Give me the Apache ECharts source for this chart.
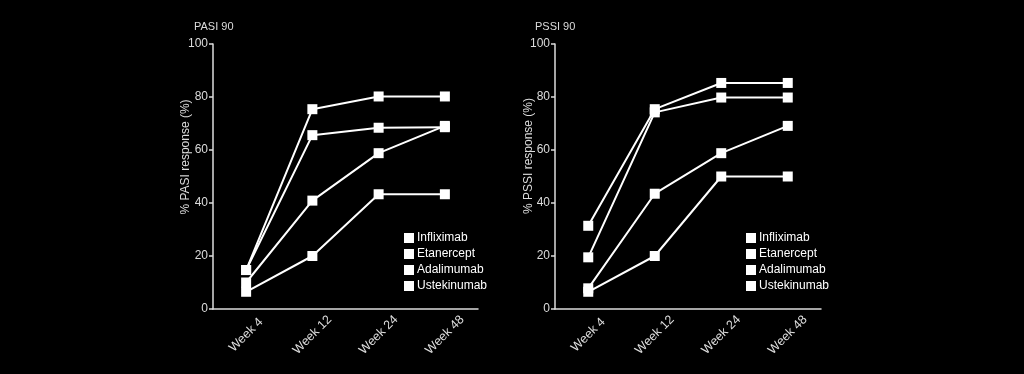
<!DOCTYPE html>
<html><head><meta charset="utf-8">
<script src="https://cdn.jsdelivr.net/npm/echarts@6/dist/echarts.min.js"></script>
<style>html,body{margin:0;padding:0;background:#000;}#c{width:1024px;height:374px;}</style>
</head><body><div id="c"></div>
<script>
const categories = ['Week 4', 'Week 12', 'Week 24', 'Week 48'];
const seriesNames = ['Infliximab', 'Etanercept', 'Adalimumab', 'Ustekinumab'];
const yTicks = [0, 20, 40, 60, 80, 100];
const pasiInfliximab = [14.7, 75.4, 80.2, 80.2];
const pasiEtanercept = [14.7, 65.6, 68.4, 68.6];
const pasiAdalimumab = [10, 40.9, 58.8, 69.1];
const pasiUstekinumab = [6.5, 20, 43.3, 43.3];
const pssiInfliximab = [31.4, 75.4, 85.3, 85.3];
const pssiEtanercept = [19.5, 74.2, 79.8, 79.8];
const pssiAdalimumab = [7.8, 43.5, 58.8, 69.1];
const pssiUstekinumab = [6.5, 20, 50, 50];

const font = 'Liberation Sans, Arial, sans-serif';
const axisCol = '#dcdcdc';
function xAxis(i){return {type:'category', gridIndex:i, data:categories, boundaryGap:true,
  axisLine:{lineStyle:{color:axisCol,width:1.5}}, axisTick:{inside:true,length:5,lineStyle:{color:axisCol,width:1.5}},
  axisLabel:{color:axisCol,fontSize:12.5,fontFamily:font,rotate:45,margin:26,align:'center',verticalAlign:'middle'}};}
function yAxis(i){return {type:'value', gridIndex:i, min:yTicks[0], max:yTicks[yTicks.length-1], interval:20,
  axisLine:{show:true,lineStyle:{color:axisCol,width:1.5}}, axisTick:{show:true,length:4,lineStyle:{color:axisCol,width:1.5}},
  splitLine:{show:false}, axisLabel:{color:axisCol,fontSize:12,fontFamily:font,margin:5}};}
function ser(name, data, i){return {name:name, type:'line', xAxisIndex:i, yAxisIndex:i, data:data,
  symbol:'rect', symbolSize:10, lineStyle:{color:'#fff',width:2}, itemStyle:{color:'#fff'}, animation:false};}
const legendBase = {orient:'vertical', icon:'rect', itemWidth:10, itemHeight:10, itemGap:4,
  textStyle:{color:'#fff',fontSize:12,fontFamily:font,padding:[0,0,0,-2]}, data:seriesNames, selectedMode:false};
const chart = echarts.init(document.getElementById('c'));
chart.setOption({
  backgroundColor:'#000',
  animation:false,
  grid:[{left:213, top:44, width:265, height:265},{left:555, top:44, width:266, height:265}],
  xAxis:[xAxis(0), xAxis(1)],
  yAxis:[yAxis(0), yAxis(1)],
  legend:[Object.assign({left:399, top:227}, legendBase), Object.assign({left:741, top:227}, legendBase)],
  graphic:[
    {type:'text', left:194, top:21, style:{text:'PASI 90', fill:axisCol, font:'11px '+font}},
    {type:'text', left:535, top:21, style:{text:'PSSI 90', fill:axisCol, font:'11px '+font}},
    {type:'text', x:186, y:157, rotation:Math.PI/2, style:{text:'% PASI response (%)', fill:axisCol, font:'12px '+font, align:'center', verticalAlign:'middle'}},
    {type:'text', x:529, y:156, rotation:Math.PI/2, style:{text:'% PSSI response (%)', fill:axisCol, font:'12px '+font, align:'center', verticalAlign:'middle'}}
  ],
  series:[
    ser(seriesNames[0], pasiInfliximab, 0), ser(seriesNames[1], pasiEtanercept, 0),
    ser(seriesNames[2], pasiAdalimumab, 0), ser(seriesNames[3], pasiUstekinumab, 0),
    ser(seriesNames[0], pssiInfliximab, 1), ser(seriesNames[1], pssiEtanercept, 1),
    ser(seriesNames[2], pssiAdalimumab, 1), ser(seriesNames[3], pssiUstekinumab, 1)
  ]
});
</script></body></html>
